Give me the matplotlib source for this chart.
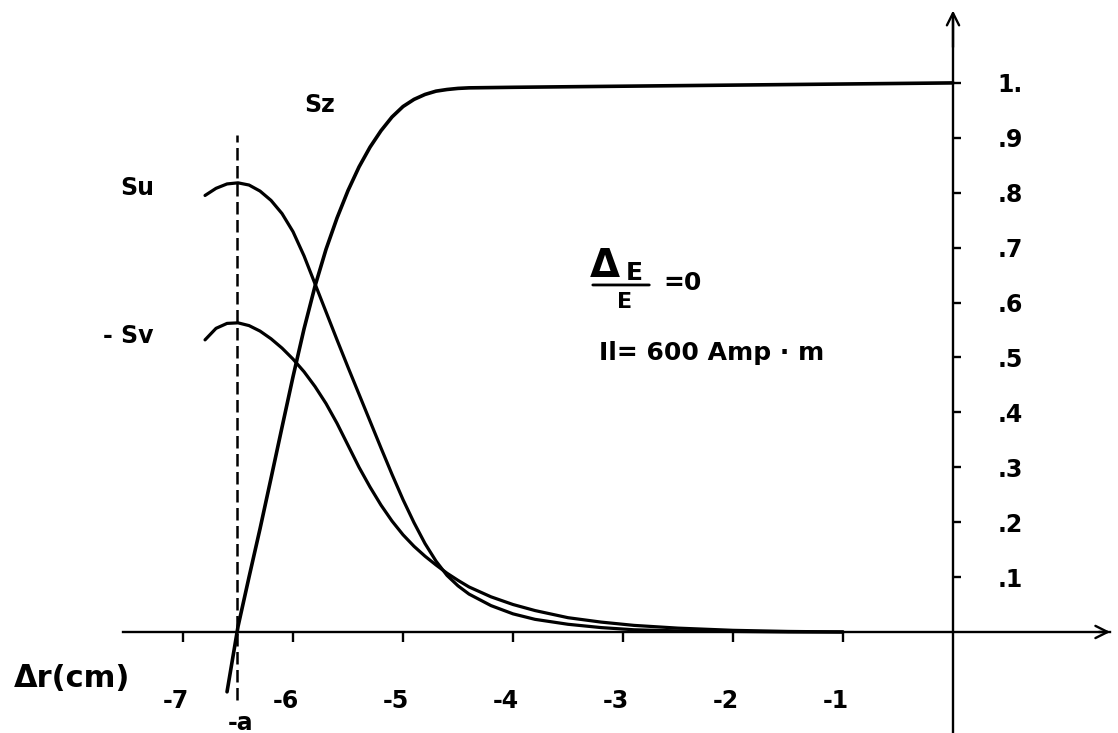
#!/usr/bin/env python3
"""
Su, -Sv and Sz versus the radial offset Delta r (cm), DeltaE/E = 0, Il = 600 Amp.m.
Re-drawn from a scanned figure: axes cross at the origin, the y axis sits on the
right-hand side of the curves and the bore edge -a is marked by a dashed line.
"""
import matplotlib
matplotlib.use("Agg")
import matplotlib.pyplot as plt
import matplotlib.transforms as mtransforms

plt.rcParams["font.family"] = ["DejaVu Sans"]
plt.rcParams["font.weight"] = "bold"

# ---- data ----
x_ticks = [-7, -6, -5, -4, -3, -2, -1]
x_tick_labels = ["-7", "-6", "-5", "-4", "-3", "-2", "-1"]
y_ticks = [0.1, 0.2, 0.3, 0.4, 0.5, 0.6, 0.7, 0.8, 0.9, 1.0]
y_tick_labels = [".1", ".2", ".3", ".4", ".5", ".6", ".7", ".8", ".9", "1."]

su_x = [-6.80, -6.70, -6.60, -6.50, -6.40, -6.30, -6.20, -6.10, -6.00, -5.90,
        -5.80, -5.70, -5.60, -5.50, -5.40, -5.30, -5.20, -5.10, -5.00, -4.90,
        -4.80, -4.70, -4.60, -4.50, -4.40, -4.20, -4.00, -3.80, -3.50, -3.20,
        -2.90, -2.50, -2.00, -1.50, -1.00]
su_y = [0.795, 0.808, 0.816, 0.818, 0.814, 0.803, 0.786, 0.762, 0.729, 0.685,
        0.634, 0.583, 0.532, 0.482, 0.433, 0.384, 0.335, 0.287, 0.241, 0.199,
        0.161, 0.129, 0.103, 0.084, 0.069, 0.048, 0.033, 0.023, 0.014, 0.008,
        0.004, 0.002, 0.001, 0.000, 0.000]

sv_x = su_x
sv_y = [0.532, 0.553, 0.562, 0.563, 0.558, 0.548, 0.534, 0.517, 0.497, 0.474,
        0.447, 0.416, 0.380, 0.340, 0.300, 0.264, 0.231, 0.202, 0.177, 0.156,
        0.138, 0.122, 0.107, 0.094, 0.082, 0.064, 0.050, 0.039, 0.026, 0.018,
        0.012, 0.007, 0.003, 0.001, 0.000]

sz_x = [-6.60, -6.50, -6.40, -6.30, -6.20, -6.10, -6.00, -5.90, -5.80, -5.70,
        -5.60, -5.50, -5.40, -5.30, -5.20, -5.10, -5.00, -4.90, -4.80, -4.70,
        -4.60, -4.50, -4.40, -4.00, -3.00, -2.00, -1.00, 0.00]
sz_y = [-0.109, 0.010, 0.100, 0.188, 0.280, 0.373, 0.465, 0.552, 0.630, 0.697,
        0.754, 0.804, 0.847, 0.883, 0.913, 0.938, 0.957, 0.970, 0.979, 0.985,
        0.988, 0.990, 0.991, 0.992, 0.994, 0.996, 0.998, 1.000]

a_pos = -6.51          # bore edge "-a"
a_span = (-0.124, 0.905)

# ---- figure ----
fig = plt.figure(figsize=(11.18, 7.33), dpi=100)
ax = fig.add_axes([0, 0, 1, 1])
ax.set_xlim(-8.664, 1.5)
ax.set_ylim(-0.184, 1.151)

LW_AX = 1.7
LW = 2.3

for side in ("top", "left"):
    ax.spines[side].set_visible(False)
ax.spines["bottom"].set_position(("data", 0))
ax.spines["right"].set_position(("data", 0))
ax.spines["bottom"].set_bounds(-7.55, 1.43)
ax.spines["right"].set_bounds(-0.182, 1.12)
ax.spines["bottom"].set_linewidth(LW_AX)
ax.spines["right"].set_linewidth(LW_AX)
ax.xaxis.set_ticks_position("bottom")
ax.yaxis.set_ticks_position("right")

# arrow heads on both axes
ax.annotate("", xy=(1.455, 0), xytext=(1.30, 0),
            arrowprops=dict(arrowstyle="->", lw=LW_AX, mutation_scale=22, color="black"))
ax.annotate("", xy=(0, 1.137), xytext=(0, 1.06),
            arrowprops=dict(arrowstyle="->", lw=LW_AX, mutation_scale=22, color="black"))

ax.set_xticks(x_ticks)
ax.set_xticklabels(x_tick_labels)
ax.set_yticks(y_ticks)
ax.set_yticklabels(y_tick_labels)
ax.tick_params(axis="x", direction="out", length=7, width=LW_AX, pad=34, labelsize=17)
ax.tick_params(axis="y", direction="out", length=6, width=LW_AX, pad=26, labelsize=17)
# labels in the scan sit a little left of their ticks
shift = mtransforms.ScaledTranslation(-0.07, 0, fig.dpi_scale_trans)
for lbl in ax.get_xticklabels():
    lbl.set_transform(lbl.get_transform() + shift)

# curves
ax.plot(su_x, su_y, color="black", lw=LW, solid_capstyle="round", solid_joinstyle="round")
ax.plot(sv_x, sv_y, color="black", lw=LW, solid_capstyle="round", solid_joinstyle="round")
ax.plot(sz_x, sz_y, color="black", lw=LW + 0.3, solid_capstyle="round", solid_joinstyle="round")
ax.vlines(a_pos, a_span[0], a_span[1], colors="black", lw=1.8,
          linestyles=(0, (5, 2.2)))

# annotations
ax.text(-5.755, 0.96, "Sz", fontsize=17, ha="center", va="center")
ax.text(-7.418, 0.809, "Su", fontsize=17, ha="center", va="center")
ax.text(-7.50, 0.539, "- Sv", fontsize=17, ha="center", va="center")
ax.text(-6.48, -0.166, "-a", fontsize=17, ha="center", va="center")
ax.text(-8.01, -0.084, "Δr(cm)", fontsize=22, ha="center", va="center")

ax.text(-3.164, 0.667, "Δ", fontsize=28, ha="center", va="center")
ax.text(-2.90, 0.654, "E", fontsize=18, ha="center", va="center")
ax.annotate("", xy=(-2.736, 0.632), xytext=(-3.30, 0.632),
            arrowprops=dict(arrowstyle="-", lw=2.0, color="black"))
ax.text(-2.982, 0.601, "E", fontsize=16, ha="center", va="center")
ax.text(-2.455, 0.636, "=0", fontsize=18, ha="center", va="center")
ax.text(-2.19, 0.508, "Il= 600 Amp · m", fontsize=18, ha="center", va="center")

fig.savefig("out.png", dpi=100, facecolor="white")
